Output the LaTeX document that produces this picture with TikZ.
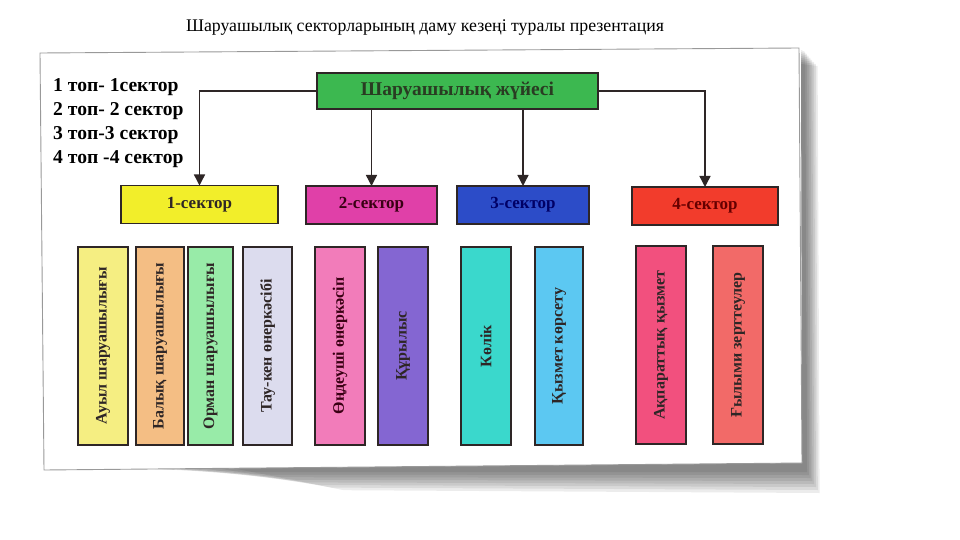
\documentclass[tikz,border=0pt]{standalone}
\usepackage{fontspec}
\setmainfont{Liberation Serif}
\usetikzlibrary{arrows.meta}
\definecolor{cgreen}{HTML}{3CB850}
\definecolor{cs1}{HTML}{F2EE2A}
\definecolor{cs2}{HTML}{E040A8}
\definecolor{cs3}{HTML}{2C4CC8}
\definecolor{cs4}{HTML}{F23C2C}
\definecolor{cb1}{HTML}{F5EE82}
\definecolor{cb2}{HTML}{F4BE84}
\definecolor{cb3}{HTML}{98EBA8}
\definecolor{cb4}{HTML}{DCDCEE}
\definecolor{cb5}{HTML}{F27CBA}
\definecolor{cb6}{HTML}{8466D2}
\definecolor{cb7}{HTML}{3AD8CC}
\definecolor{cb8}{HTML}{5CC8F2}
\definecolor{cb9}{HTML}{F2507E}
\definecolor{cb10}{HTML}{F26A68}
\definecolor{ink}{HTML}{2E2626}
\tikzset{
  boxframe/.style={draw=ink, line width=1.1pt, inner sep=0pt, outer sep=0pt},
  sectorbox/.style={boxframe, minimum height=38pt, font=\bfseries\fontsize{17}{19}\selectfont},
  barbox/.style={boxframe, minimum height=198pt},
  conn/.style={line width=1.4pt, draw=ink, -{Triangle[length=11pt,width=11pt]}},
  bartext/.style={rotate=90, font=\bfseries\fontsize{16}{18}\selectfont, text=ink}
}
\begin{document}
\begin{tikzpicture}[x=1pt,y=-1pt]
\useasboundingbox (0,0) rectangle (960,540);
\fill[white] (0,0) rectangle (960,540);
% soft shadow
\foreach \o in {0,2,4,6,8,10,12,14}{
  \fill[black, opacity=0.075] (120+\o*8,468) -- (802,463) -- (801,50+\o) -- (805+\o*0.9,52+\o) -- (807+\o*0.9,472+\o*1.5) -- (260+\o*6,472+\o*1.3) -- cycle;
}
% frame
\filldraw[fill=white, draw=gray!80, line width=0.9pt] (40,53) -- (799,48) -- (802,463) -- (44,470) -- cycle;
% title
\node[font=\fontsize{17.8}{20}\selectfont] (title) at (425,28) {Шаруашылық секторларының даму кезеңі туралы презентация};
% left text
\node[anchor=north west, align=left, inner sep=0pt, font=\bfseries\fontsize{19.6}{24}\selectfont] (groups) at (53,78)
  {1 топ- 1сектор\\2 топ- 2 сектор\\3 топ-3 сектор\\4 топ -4 сектор};
% top box
\node[boxframe, fill=cgreen, minimum width=281pt, minimum height=36pt, font=\bfseries\fontsize{19.5}{21}\selectfont, text=ink!90!green] (top) at (457.5,91) {Шаруашылық жүйесі};
% sectors
\node[sectorbox, fill=cs1, minimum width=157pt, text=ink] (s1) at (199.5,204.5) {1-сектор};
\node[sectorbox, fill=cs2, minimum width=131pt, text=black!70!purple] (s2) at (371.5,205) {2-сектор};
\node[sectorbox, fill=cs3, minimum width=132pt, text=black!60!blue] (s3) at (523,205) {3-сектор};
\node[sectorbox, fill=cs4, minimum width=146pt, text=black!60!red] (s4) at (705,206) {4-сектор};
% connectors
\draw[conn] (top.west) -| (s1.north);
\draw[conn] (s2.north |- top.south) -- (s2.north);
\draw[conn] (s3.north |- top.south) -- (s3.north);
\draw[conn] (top.east) -| (s4.north);
% bars
\node[barbox, fill=cb1, minimum width=50pt] (b1) at (103,346) {};
\node[bartext] at (b1) {Ауыл шаруашылығы};
\node[barbox, fill=cb2, minimum width=48pt] (b2) at (160,346) {};
\node[bartext] at (b2) {Балық шаруашылығы};
\node[barbox, fill=cb3, minimum width=45pt] (b3) at (210.5,346) {};
\node[bartext] at (b3) {Орман шаруашылығы};
\node[barbox, fill=cb4, minimum width=49pt] (b4) at (267.5,346) {};
\node[bartext] at (b4) {Тау-кен өнеркәсібі};
\node[barbox, fill=cb5, minimum width=50pt] (b5) at (340,346) {};
\node[bartext, text=black!70!purple] at (b5) {Өңдеуші өнеркәсіп};
\node[barbox, fill=cb6, minimum width=50pt] (b6) at (403,346) {};
\node[bartext] at (b6) {Құрылыс};
\node[barbox, fill=cb7, minimum width=50pt] (b7) at (486,346) {};
\node[bartext] at (b7) {Көлік};
\node[barbox, fill=cb8, minimum width=48pt] (b8) at (559,346) {};
\node[bartext] at (b8) {Қызмет көрсету};
\node[barbox, fill=cb9, minimum width=50pt] (b9) at (661,345) {};
\node[bartext] at (b9) {Ақпараттық қызмет};
\node[barbox, fill=cb10, minimum width=50pt] (b10) at (738,345) {};
\node[bartext] at (b10) {Ғылыми зерттеулер};
\end{tikzpicture}
\end{document}
